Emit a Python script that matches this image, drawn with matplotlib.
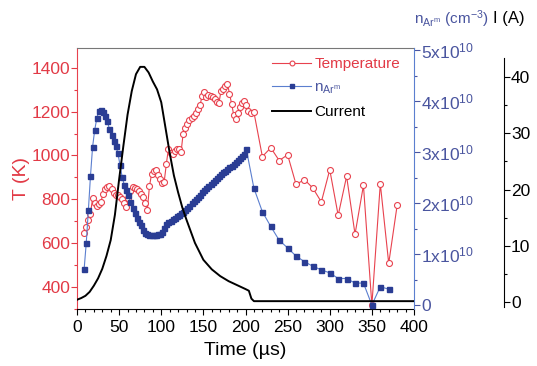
import matplotlib
matplotlib.use('Agg')
import matplotlib.pyplot as plt
from matplotlib.ticker import MultipleLocator, FixedLocator, FixedFormatter
from matplotlib.lines import Line2D

plt.rcParams['font.family'] = ['Liberation Sans', 'DejaVu Sans']
plt.rcParams['mathtext.fontset'] = 'custom'
plt.rcParams['mathtext.rm'] = 'Liberation Sans'
plt.rcParams['mathtext.it'] = 'Liberation Sans:italic'
plt.rcParams['mathtext.default'] = 'regular'

# ---------------- data ----------------
# Temperature (K)
temp_time = [8.5, 11, 13.5, 16, 18.5, 21, 23.5, 26, 28.5, 31, 33.5, 36, 38.5, 41, 43.5, 46,
             48.5, 51, 53.5, 56, 58.5, 61, 63.5, 66, 68.5, 71, 73.5, 76, 78.5, 81, 83.5, 86,
             88.5, 91, 93.5, 96, 98.5, 101, 103.5, 106, 108.5, 111, 113.5, 116, 118.5, 121,
             123.5, 126, 128.5, 131, 133.5, 136, 138.5, 141, 143.5, 146, 148.5, 151, 153.5,
             156, 158.5, 161, 163.5, 166, 168.5, 171, 173.5, 176, 178.5, 181, 183.5, 186,
             188.5, 191, 193.5, 196, 198.5, 201, 203.5, 206, 210,
             220, 230, 240, 250, 260, 270, 280, 290, 300, 310, 320, 330, 340, 350, 360, 370, 380]
temp_val = [645, 675, 708, 735, 805, 782, 770, 780, 790, 826, 845, 858, 862, 845, 830, 822,
            818, 812, 800, 785, 765, 805, 840, 858, 852, 845, 840, 825, 810, 782, 752, 860,
            915, 930, 935, 910, 895, 875, 880, 960, 1030, 1010, 1008, 1020, 1028, 1030,
            1015, 1100, 1125, 1145, 1160, 1170, 1180, 1195, 1210, 1230, 1270, 1290, 1268,
            1275, 1270, 1265, 1258, 1245, 1240, 1295, 1305, 1318, 1328, 1282, 1236, 1185,
            1168, 1195, 1220, 1238, 1250, 1228, 1205, 1192, 1197,
            995, 1035, 977, 1003, 868, 890, 851, 788, 935, 727, 905, 641, 864, 318, 871, 508, 773]

# Ar metastable density (1e10 cm^-3)
n_time = [8.5, 11, 13.5, 16, 18.5, 21, 23.5, 26, 28.5, 31, 33.5, 36, 38.5, 41, 43.5, 46,
          48.5, 51, 53.5, 56, 58.5, 61, 63.5, 66, 68.5, 71, 73.5, 76, 78.5, 81, 83.5, 86,
          88.5, 91, 93.5, 96, 98.5, 101, 103.5, 106, 108.5, 111, 113.5, 116, 118.5, 121,
          123.5, 126, 128.5, 131, 133.5, 136, 138.5, 141, 143.5, 146, 148.5, 151, 153.5,
          156, 158.5, 161, 163.5, 166, 168.5, 171, 173.5, 176, 178.5, 181, 183.5, 186,
          188.5, 191, 193.5, 196, 198.5, 201,
          210, 220, 230, 240, 250, 260, 270, 280, 290, 300, 310, 320, 330, 340, 350, 360, 370]
n_val = [0.71, 1.22, 1.86, 2.53, 3.10, 3.43, 3.66, 3.81, 3.82, 3.78, 3.70, 3.60, 3.45, 3.33,
         3.22, 3.12, 2.98, 2.75, 2.52, 2.36, 2.25, 2.15, 2.02, 1.90, 1.80, 1.71, 1.63, 1.56,
         1.48, 1.42, 1.39, 1.38, 1.38, 1.38, 1.38, 1.39, 1.40, 1.44, 1.52, 1.58, 1.62, 1.65,
         1.68, 1.71, 1.74, 1.77, 1.80, 1.83, 1.87, 1.91, 1.95, 2.00, 2.04, 2.08, 2.12, 2.16,
         2.21, 2.25, 2.30, 2.34, 2.38, 2.42, 2.46, 2.50, 2.53, 2.57, 2.60, 2.63, 2.66, 2.70,
         2.73, 2.77, 2.81, 2.85, 2.89, 2.93, 2.97, 3.05,
         2.29, 1.83, 1.54, 1.27, 1.12, 0.96, 0.85, 0.76, 0.69, 0.63, 0.52, 0.52, 0.43, 0.43,
         0.0, 0.36, 0.31]

# Current (A)
cur_time = [0, 5, 10, 15, 20, 25, 30, 35, 40, 45, 50, 55, 60, 65, 70, 75, 80, 85, 90, 95,
            100, 105, 110, 115, 120, 125, 130, 140, 150, 160, 170, 180, 190, 200, 204, 207,
            210, 400]
cur_val = [0.4, 0.7, 1.1, 1.8, 2.9, 4.2, 5.9, 8.2, 11.0, 15.5, 21.8, 27.7, 33.3, 37.5, 40.5,
           41.8, 41.8, 40.8, 39.2, 37.8, 35.5, 31.0, 26.5, 22.5, 19.5, 16.8, 14.6, 10.5, 7.5,
           5.8, 4.6, 3.7, 3.0, 2.3, 2.0, 0.6, 0.15, 0.15]

n_ticks = [0, 1, 2, 3, 4, 5]
n_ticklabels = ['0', '1x10$^{10}$', '2x10$^{10}$', '3x10$^{10}$', '4x10$^{10}$', '5x10$^{10}$']
cur_ticks = [0, 10, 20, 30, 40]
cur_minor = [5, 15, 25, 35]

# ---------------- style ----------------
RED = '#e8424e'
RED_TXT = '#e23a46'
BLUE_M = '#2a3d94'
BLUE_L = '#5b7fcf'
BLUE_TXT = '#4a559f'
FS = 12.5

fig = plt.figure(figsize=(5.37, 3.66), dpi=100)
L, R, B, T = 77 / 537, 414 / 537, 1 - 309 / 366, 1 - 48 / 366
ax = fig.add_axes([L, B, R - L, T - B])
ax2 = ax.twinx()
ax3 = ax.twinx()

# current axis (offset)
ax3.spines['right'].set_position(('axes', (504 - 77) / 337))
ax3.set_ylim(-(309 - 302) / 5.625, (302 - 48) / 5.625)
ax3.spines['right'].set_bounds(-0.9, 43.4)
ax3.plot(cur_time, cur_val, color='black', lw=1.4, zorder=3)
ax3.yaxis.set_major_locator(FixedLocator(cur_ticks))
ax3.yaxis.set_minor_locator(FixedLocator(cur_minor))
for s in ['top', 'left', 'bottom']:
    ax3.spines[s].set_visible(False)
ax3.spines['right'].set_color('black')
ax3.tick_params(axis='y', which='major', length=4, width=0.8, labelsize=FS, pad=1, direction='out')
ax3.tick_params(axis='y', which='minor', length=2.5, width=0.8)

# temperature
ax.plot(temp_time, temp_val, color=RED, lw=0.8, marker='o', ms=4.3, mfc='white',
        mec=RED, mew=0.8, zorder=4)
ax.set_xlim(0, 400)
ax.set_ylim(300, 1490)
ax.set_yticks([400, 600, 800, 1000, 1200, 1400])
ax.yaxis.set_minor_locator(MultipleLocator(100))
ax.xaxis.set_major_locator(MultipleLocator(50))
ax.xaxis.set_minor_locator(MultipleLocator(10))
ax.tick_params(axis='y', which='both', colors=RED_TXT, labelsize=FS, pad=1)
ax.tick_params(axis='y', which='major', length=4, width=0.8)
ax.tick_params(axis='y', which='minor', length=2.5, width=0.8)
ax.tick_params(axis='x', which='major', length=4, width=0.8, labelsize=FS, pad=4)
ax.tick_params(axis='x', which='minor', length=2.5, width=0.8)
ax.spines['left'].set_color(RED)
ax.spines['top'].set_color('#777777')
ax.spines['right'].set_visible(False)
ax.set_xlabel('Time (µs)', fontsize=14, labelpad=5)
ax.set_ylabel('T (K)', fontsize=14, color=RED_TXT, labelpad=1)

# density
ax2.plot(n_time, n_val, color=BLUE_L, lw=0.8, marker='s', ms=3.6, mfc=BLUE_M, mec=BLUE_M,
         zorder=5)
ax2.set_ylim(-0.078, 5.04)
ax2.yaxis.set_major_locator(FixedLocator(n_ticks))
ax2.yaxis.set_major_formatter(FixedFormatter(n_ticklabels))
ax2.yaxis.set_minor_locator(MultipleLocator(0.5))
ax2.spines['right'].set_color(BLUE_L)
for s in ['top', 'left', 'bottom']:
    ax2.spines[s].set_visible(False)
ax2.tick_params(axis='y', which='both', colors=BLUE_TXT, labelsize=FS, pad=1)
ax2.tick_params(axis='y', which='major', length=4, width=0.8)
ax2.tick_params(axis='y', which='minor', length=2.5, width=0.8)

# axis titles on top right
fig.text(451 / 537, 1 - 19 / 366, 'n$_{Ar^{m}}$ (cm$^{-3}$)', color=BLUE_TXT, fontsize=11,
         ha='center', va='center')
fig.text(509 / 537, 1 - 19 / 366, 'I (A)', color='black', fontsize=12, ha='center', va='center')

# legend
handles = [
    Line2D([], [], color=RED, lw=0.8, marker='o', ms=3.5, mfc='white', mec=RED, mew=0.8),
    Line2D([], [], color=BLUE_L, lw=0.8, marker='s', ms=3.5, mfc=BLUE_M, mec=BLUE_M),
    Line2D([], [], color='black', lw=1.4),
]
labels = ['Temperature', 'n$_{Ar^{m}}$', 'Current']
leg = ax3.legend(handles, labels, loc='upper left', bbox_to_anchor=(0.58, 0.965),
                 frameon=False, fontsize=11, handlelength=2.5, handletextpad=0.25,
                 borderpad=0, borderaxespad=0, labelspacing=0.62)
for txt, c in zip(leg.get_texts(), [RED_TXT, BLUE_TXT, 'black']):
    txt.set_color(c)

fig.savefig('out.png', dpi=100)
